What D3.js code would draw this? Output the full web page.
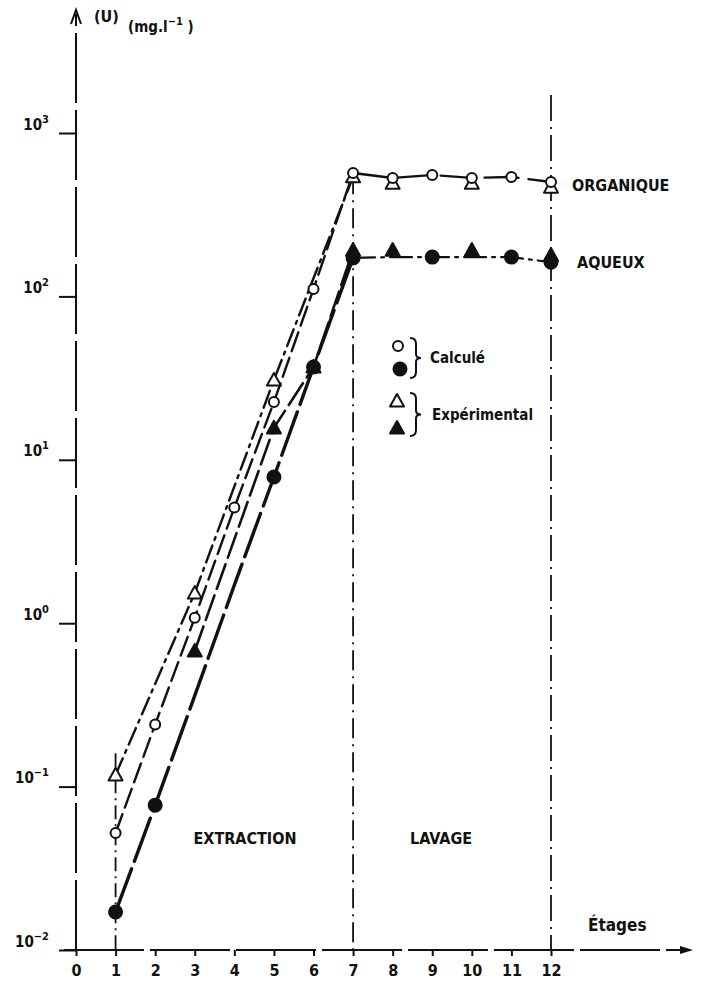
<!DOCTYPE html>
<html>
<head>
<meta charset="utf-8">
<script src="https://cdn.jsdelivr.net/npm/d3@7"></script>
<style>
  html, body { margin: 0; padding: 0; background: #fff; }
  svg { display: block; }
  text { font-family: "Liberation Sans Narrow", "DejaVu Sans Condensed", "Liberation Sans", sans-serif; fill: #111; }
</style>
</head>
<body>
<svg id="chart" width="708" height="988"></svg>
<script>
// Stages (étages) 1..12 — 1..7 extraction, 7..12 lavage
const stages = [1, 2, 3, 4, 5, 6, 7, 8, 9, 10, 11, 12];
const xTicks = [0, 1, 2, 3, 4, 5, 6, 7, 8, 9, 10, 11, 12];
const yTickExp = [-2, -1, 0, 1, 2, 3];

// Calculated concentrations (mg/l)
const orgCalc = [0.052, 0.24, 1.08, 5.1, 22.6, 111, 569, 531, 553, 531, 538, 501];
const aqCalc  = [0.0171, 0.077, 0.36, 1.71, 7.85, 37, 172, 174, 174, 174, 174, 162];
// stages where a calculated point is marked
const orgCalcMarked = [1, 2, 3, 4, 5, 6, 7, 8, 9, 10, 11, 12];
const aqCalcMarked  = [1, 2, 5, 6, 7, 9, 11, 12];

// Experimental concentrations (mg/l)
const orgExpStages = [1, 3, 5, 7, 8, 10, 12];
const orgExp       = [0.118, 1.53, 30.8, 540, 494, 494, 467];
const aqExpStages  = [3, 5, 6, 7, 8, 10, 12];
const aqExp        = [0.676, 15.7, 37, 192, 192, 192, 179];

const svg = d3.select("#chart");
const ink = "#111";

const x = d3.scaleLinear().domain([0, 12]).range([76, 551]);
const y = d3.scaleLog().domain([1e-2, 1e3]).range([950, 133]);
const yTop = 10, xEnd = 693;

// ---- axes ----
const yAxis = d3.axisLeft(y)
  .tickValues(yTickExp.map(e => Math.pow(10, e)))
  .tickSize(17).tickPadding(9).tickFormat(() => "");
const gy = svg.append("g").attr("transform", `translate(${x(0)},0)`).call(yAxis);
gy.select(".domain").remove();
gy.selectAll(".tick line").attr("stroke", ink).attr("stroke-width", 2);
gy.selectAll(".tick").each(function(d, i) {
  const t = d3.select(this).append("text")
    .attr("x", -27).attr("y", -4).attr("text-anchor", "end")
    .attr("font-size", 15).attr("font-weight", "bold").attr("fill", ink);
  t.append("tspan").text("10");
  t.append("tspan").attr("dy", -7).attr("font-size", 11).text(String(yTickExp[i]).replace("-", "\u2212"));
});

const xAxis = d3.axisBottom(x).tickValues(xTicks).tickSize(6).tickPadding(9).tickFormat(d3.format("d"));
const gx = svg.append("g").attr("transform", `translate(0,${y(1e-2)})`).call(xAxis);
gx.select(".domain").remove();
gx.selectAll(".tick line").attr("stroke", ink).attr("stroke-width", 2);
gx.selectAll(".tick text").attr("font-size", 16).attr("font-weight", "bold").attr("fill", ink);

// axis lines with arrows
svg.append("line").attr("x1", x(0)).attr("x2", x(0)).attr("y1", y(1e-2)).attr("y2", yTop + 4)
  .attr("stroke", ink).attr("stroke-width", 2).attr("stroke-dasharray", "70,7");
svg.append("path").attr("d", `M${x(0) - 5},${yTop + 14} L${x(0)},${yTop} L${x(0) + 5},${yTop + 14}`)
  .attr("fill", "none").attr("stroke", ink).attr("stroke-width", 2);
svg.append("line").attr("x1", x(0) - 12).attr("x2", xEnd - 3).attr("y1", y(1e-2)).attr("y2", y(1e-2))
  .attr("stroke", ink).attr("stroke-width", 2).attr("stroke-dasharray", "80,6");
svg.append("path").attr("d", `M${xEnd - 13},${y(1e-2) - 4} L${xEnd},${y(1e-2)} L${xEnd - 13},${y(1e-2) + 4} Z`)
  .attr("fill", ink);

// ---- stage separators ----
function vline(stage, yFrom, dash) {
  svg.append("line").attr("x1", x(stage)).attr("x2", x(stage))
    .attr("y1", yFrom).attr("y2", y(1e-2))
    .attr("stroke", ink).attr("stroke-width", 1.8).attr("stroke-dasharray", dash);
}
vline(1, y(0.16), "14,5,2,5");
vline(7, y(560), "20,6,2,6");
vline(12, 95, "26,6,2,6");

// ---- curves ----
const line = d3.line().x(d => x(d[0])).y(d => y(d[1]));
function curve(pts, dash, w) {
  svg.append("path").datum(pts).attr("d", line)
    .attr("fill", "none").attr("stroke", ink).attr("stroke-width", w)
    .attr("stroke-dasharray", dash).attr("stroke-linecap", "round");
}
const orgCalcPts = stages.map((s, i) => [s, orgCalc[i]]);
const aqCalcPts  = stages.map((s, i) => [s, aqCalc[i]]);
const orgExpPts  = orgExpStages.map((s, i) => [s, orgExp[i]]);
const aqExpPts   = aqExpStages.map((s, i) => [s, aqExp[i]]);

curve(orgCalcPts.filter(p => p[0] <= 7), "20,7", 2.4);
curve(orgCalcPts.filter(p => p[0] >= 7), "34,10", 2.4);
curve(aqCalcPts.filter(p => p[0] <= 7), "46,8", 3.4);
curve(aqCalcPts.filter(p => p[0] >= 7), "22,6,3,6", 2.2);
curve(orgExpPts.filter(p => p[0] <= 7), "18,6,3,6", 2.4);
curve(aqExpPts.filter(p => p[0] <= 7), "26,7", 2.6);

// ---- markers ----
function circle(g, cx, cy, filled) {
  g.append("circle").attr("cx", cx).attr("cy", cy).attr("r", filled ? 6.5 : 5)
    .attr("fill", filled ? ink : "#fff").attr("stroke", ink).attr("stroke-width", 2);
}
function triangle(g, cx, cy, filled) {
  const s = 7;
  g.append("path").attr("d", `M${cx},${cy - s} L${cx + s},${cy + s * 0.8} L${cx - s},${cy + s * 0.8} Z`)
    .attr("fill", filled ? ink : "#fff").attr("stroke", ink).attr("stroke-width", 2).attr("stroke-linejoin", "round");
}
const gm = svg.append("g");
orgExpPts.forEach(p => triangle(gm, x(p[0]), y(p[1]), false));
aqExpPts.forEach(p => triangle(gm, x(p[0]), y(p[1]), true));
orgCalcPts.filter(p => orgCalcMarked.includes(p[0])).forEach(p => circle(gm, x(p[0]), y(p[1]), false));
aqCalcPts.filter(p => aqCalcMarked.includes(p[0])).forEach(p => circle(gm, x(p[0]), y(p[1]), true));

// ---- labels ----
function label(tx, ty, str, size, anchor, weight) {
  return svg.append("text").attr("x", tx).attr("y", ty).attr("font-size", size)
    .attr("text-anchor", anchor || "start").attr("font-weight", weight || "bold")
    .attr("fill", ink).text(str);
}
label(572, 191, "ORGANIQUE", 16);
label(577, 268, "AQUEUX", 16);
label(245, 844, "EXTRACTION", 16, "middle");
label(441, 844, "LAVAGE", 16, "middle");
label(588, 931, "Étages", 17);

// y-axis title
label(94, 22, "(U)", 16);
const unit = label(128, 32, "(mg.l", 15);
unit.append("tspan").attr("dy", -7).attr("font-size", 11).text("\u22121");
unit.append("tspan").attr("dy", 7).text(" )");

// legend
const lg = svg.append("g");
circle(lg, 398, 346, false);
circle(lg, 400, 369, true);
triangle(lg, 397, 401, false);
triangle(lg, 397, 428, true);
// curly braces grouping each pair
function brace(bx, top, bottom) {
  const mid = (top + bottom) / 2;
  svg.append("path")
    .attr("d", `M${bx},${top} Q${bx + 6},${top} ${bx + 6},${top + 6} L${bx + 6},${mid - 4} Q${bx + 6},${mid} ${bx + 11},${mid}` +
               ` Q${bx + 6},${mid} ${bx + 6},${mid + 4} L${bx + 6},${bottom - 6} Q${bx + 6},${bottom} ${bx},${bottom}`)
    .attr("fill", "none").attr("stroke", ink).attr("stroke-width", 2);
}
brace(410, 338, 378);
brace(410, 393, 436);
label(430, 363, "Calculé", 15);
label(432, 420, "Expérimental", 15);
</script>
</body>
</html>
